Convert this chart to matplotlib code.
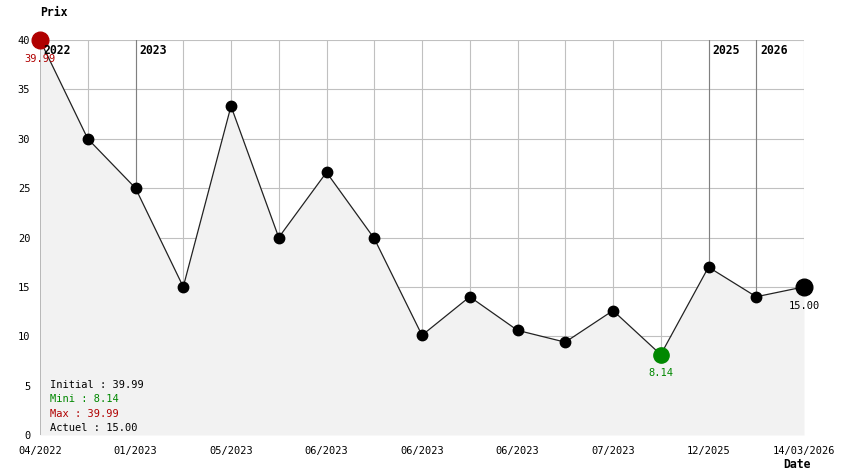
import matplotlib
matplotlib.use("Agg")
import matplotlib.pyplot as plt
import numpy as np

prix = [39.99, 30.0, 25.0, 15.0, 33.3, 20.0, 26.6, 19.9, 10.1, 14.0, 10.6, 9.4, 12.6, 8.14, 17.0, 14.0, 15.0]
tick_pos = [0, 2, 4, 6, 8, 10, 12, 14, 16]
tick_labels = ["04/2022", "01/2023", "05/2023", "06/2023", "06/2023", "06/2023", "07/2023", "12/2025", "14/03/2026"]
year_pos = [0, 2, 14, 15]
year_labels = ["2022", "2023", "2025", "2026"]
y_ticks = [0, 5, 10, 15, 20, 25, 30, 35, 40]

RED = "#b00000"
GREEN = "#008800"
FONT = "DejaVu Sans Mono"

x = np.arange(len(prix))
i_min = int(np.argmin(prix))
i_max = int(np.argmax(prix))

fig = plt.figure(figsize=(8.44, 4.74), dpi=100)
ax = fig.add_axes([40/844, 39/474, 764/844, 395/474])
ax.set_xlim(0, len(prix) - 1)
ax.set_ylim(0, 40)
for s in ax.spines.values():
    s.set_visible(False)

# grid
for xi in x:
    ax.axvline(xi, color="#c0c0c0", lw=0.8, zorder=0)
for yv in y_ticks:
    ax.axhline(yv, color="#c0c0c0", lw=0.8, zorder=0)
# year lines
for xp, lab in zip(year_pos, year_labels):
    ax.axvline(xp, color="#808080", lw=0.8, zorder=0.5)
    ax.text(xp + 0.08, 39.6, lab, fontsize=8.3, fontweight="bold", family=FONT,
            va="top", ha="left", zorder=5)

ax.fill_between(x, prix, 0, color="#f2f2f2", zorder=1, lw=0)
ax.plot(x, prix, color="#222222", lw=0.9, zorder=2)
ax.plot(x, prix, "o", color="black", ms=7.5, zorder=3, clip_on=False)
ax.plot(x[0], prix[0], "o", color=RED, ms=12, zorder=4, clip_on=False)
ax.plot(x[i_min], prix[i_min], "o", color=GREEN, ms=11, zorder=4, clip_on=False)
ax.plot(x[-1], prix[-1], "o", color="black", ms=12, zorder=4, clip_on=False)

ax.text(x[i_max], prix[i_max] - 1.4, "%.2f" % prix[i_max], color=RED, fontsize=7.5,
        family=FONT, ha="center", va="top", zorder=5)
ax.text(x[i_min], prix[i_min] - 1.4, "%.2f" % prix[i_min], color=GREEN, fontsize=7.5,
        family=FONT, ha="center", va="top", zorder=5)
ax.text(x[-1], prix[-1] - 1.4, "%.2f" % prix[-1], color="black", fontsize=7.5,
        family=FONT, ha="center", va="top", zorder=5)

# summary
lines = [("Initial : %.2f" % prix[0], "black"),
         ("Mini : %.2f" % prix[i_min], GREEN),
         ("Max : %.2f" % prix[i_max], RED),
         ("Actuel : %.2f" % prix[-1], "black")]
for k, (t, c) in enumerate(lines):
    fig.text(50/844, 1 - (385 + 14.3*k)/474, t, color=c, fontsize=7.5, family=FONT,
             va="center", ha="left")

ax.set_xticks(tick_pos)
ax.set_xticklabels(tick_labels, family=FONT, fontsize=7.5)
ax.set_yticks(y_ticks)
ax.set_yticklabels([str(v) for v in y_ticks], family=FONT, fontsize=7.5)
ax.tick_params(length=0, pad=8)
ax.tick_params(axis="y", pad=7)

fig.text(40/844, 1 - 12/474, "Prix", fontsize=8.3, fontweight="bold", family=FONT,
         ha="left", va="center")
fig.text(783/844, 1 - 465/474, "Date", fontsize=8.3, fontweight="bold", family=FONT,
         ha="left", va="center")

fig.savefig("out.png", dpi=100)
